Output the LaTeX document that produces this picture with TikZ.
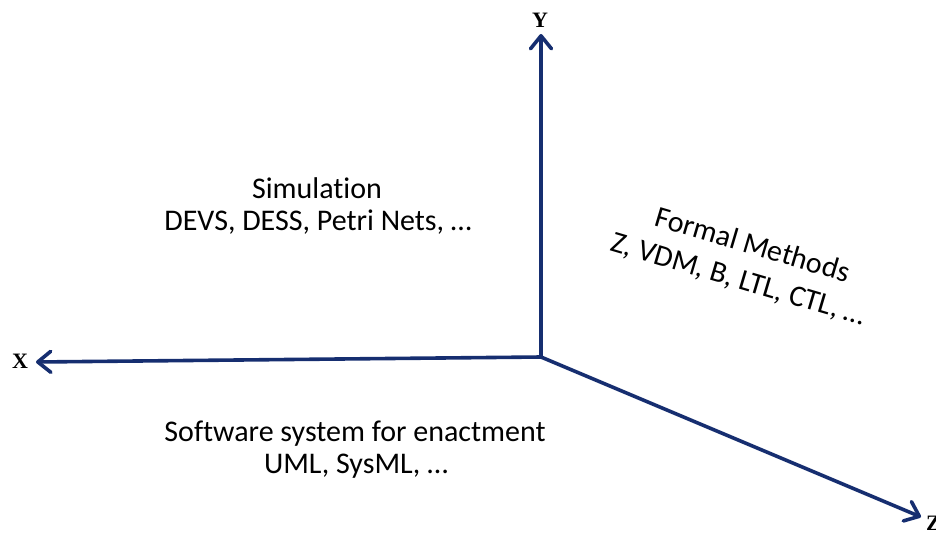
\documentclass[tikz,border=0pt]{standalone}
\usepackage{fontspec}
\setmainfont[Ligatures=NoCommon]{Carlito}
\newfontfamily\axisfont{Liberation Serif}
\usetikzlibrary{arrows.meta}
\definecolor{axisblue}{RGB}{22,46,112}
\tikzset{
  axis/.style={draw=axisblue, line width=3.6pt, line cap=round,
    -{Straight Barb[length=13pt,width=21pt,line width=3.6pt,round]}},
  axlabel/.style={font=\axisfont\bfseries\fontsize{22}{22}\selectfont, inner sep=0pt},
  textline/.style={font=\fontsize{30}{32}\selectfont, inner sep=0pt, anchor=base}
}
\begin{document}
\begin{tikzpicture}[x=1pt,y=-1pt]
\useasboundingbox (0,0) rectangle (936,533);
\coordinate (o) at (541,357);
\coordinate (xe) at (36,362);
\coordinate (ye) at (541,34);
\coordinate (ze) at (921,517);
\draw[axis] (o) -- (xe);
\draw[axis] (o) -- (ye);
\draw[axis] (o) -- (ze);
\node[axlabel] (xl) at (20,361) {X};
\node[axlabel] (yl) at (540,20) {Y};
\node[axlabel, anchor=north west] (zl) at (926,516) {Z};
\node[textline] (sim1) at (317,198) {Simulation};
\node[textline] (sim2) at (318,230) {DEVS, DESS, Petri Nets, \dots};
\node[textline] (sw1) at (355,441) {Software system for enactment};
\node[textline] (sw2) at (356,473) {UML, SysML, \dots};
\node[textline, rotate=-16.5] (fm1) at (750,254) {Formal Methods};
\node[textline, rotate=-16.5] (fm2) at (736,288) {Z, VDM, B, LTL, CTL, \dots};
\end{tikzpicture}
\end{document}
